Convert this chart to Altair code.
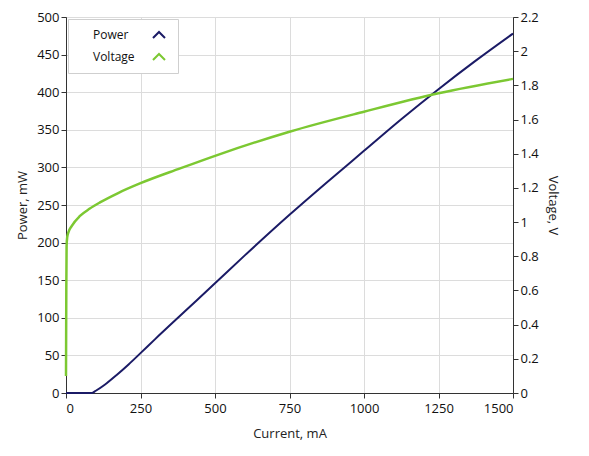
import altair as alt
import pandas as pd

# Power curve (current mA, power mW)
power_current = [0, 86, 100, 130, 170, 210, 250, 300, 400, 500, 600, 750, 875, 1000, 1125, 1250, 1375, 1500]
power_mw = [0, 0, 3, 11, 24, 38, 53, 72, 109, 146, 183, 237, 280, 322, 364, 404, 442, 478]

# Voltage curve (current mA, voltage V)
volt_current = [0, 1, 2, 4, 8, 19, 47, 80, 114, 175, 248, 383, 517, 750, 1000, 1250, 1500]
volt_v = [0.1, 0.6, 0.86, 0.91, 0.94, 0.977, 1.036, 1.079, 1.115, 1.17, 1.226, 1.314, 1.398, 1.529, 1.646, 1.754, 1.838]

series_names = ["Power", "Voltage"]
series_colors = ["#1b1b66", "#7cc832"]
x_ticks = [0, 250, 500, 750, 1000, 1250, 1500]
p_ticks = [0, 50, 100, 150, 200, 250, 300, 350, 400, 450, 500]
v_ticks = [0, 0.2, 0.4, 0.6, 0.8, 1.0, 1.2, 1.4, 1.6, 1.8, 2.0, 2.2]

df_p = pd.DataFrame({"current": power_current, "value": power_mw, "series": "Power"})
df_v = pd.DataFrame({"current": volt_current, "value": volt_v, "series": "Voltage"})

FONT = "Open Sans"

color = alt.Color(
    "series:N",
    scale=alt.Scale(domain=series_names, range=series_colors),
    legend=alt.Legend(
        title=None,
        orient="none",
        legendX=2,
        legendY=2,
        padding=9,
        fillColor="white",
        strokeColor="#cfcfcf",
        labelFont=FONT,
        labelFontSize=12,
        labelColor="#111",
        rowPadding=8,
        symbolType="M-1,0.5L0,-0.5L1,0.5",
        symbolSize=144,
        symbolStrokeWidth=2,
        symbolOffset=75,
        labelOffset={"expr": "-73"},
    ),
)

x = alt.X(
    "current:Q",
    scale=alt.Scale(domain=[0, 1500], nice=False),
    axis=alt.Axis(title="Current, mA", values=x_ticks, format="d", grid=True,
                  titlePadding=12, labelPadding=4, labelOverlap=False),
)

power = alt.Chart(df_p).mark_line(strokeWidth=2, interpolate="monotone").encode(
    x=x,
    y=alt.Y(
        "value:Q",
        scale=alt.Scale(domain=[0, 500], nice=False),
        axis=alt.Axis(title="Power, mW", values=p_ticks, grid=True, orient="left",
                      titlePadding=7, labelOverlap=False),
    ),
    color=color,
)

voltage = alt.Chart(df_v).mark_line(strokeWidth=2.5, interpolate="monotone").encode(
    x=x,
    y=alt.Y(
        "value:Q",
        scale=alt.Scale(domain=[0, 2.2], nice=False),
        axis=alt.Axis(title="Voltage, V", values=v_ticks, format="~g", grid=False, orient="right",
                      titlePadding=7, labelOverlap=False),
    ),
    color=color,
)

chart = (
    alt.layer(power, voltage)
    .resolve_scale(y="independent")
    .properties(
        width=447,
        height=376,
        autosize=alt.AutoSizeParams(type="none"),
        padding={"left": 58, "top": 9, "right": 60, "bottom": 50},
        background="white",
    )
    .configure_view(stroke="#333", strokeWidth=1)
    .configure_axis(
        labelFont=FONT,
        titleFont=FONT,
        labelFontSize=13,
        titleFontSize=13,
        titleFontWeight="normal",
        labelColor="#111",
        titleColor="#222",
        domainColor="#333",
        tickColor="#333",
        tickSize=5,
        labelPadding=2,
        gridColor="#dcdcdc",
        gridWidth=1,
    )
)

chart.save("out.html", embed_options={"renderer": "svg", "actions": False})
